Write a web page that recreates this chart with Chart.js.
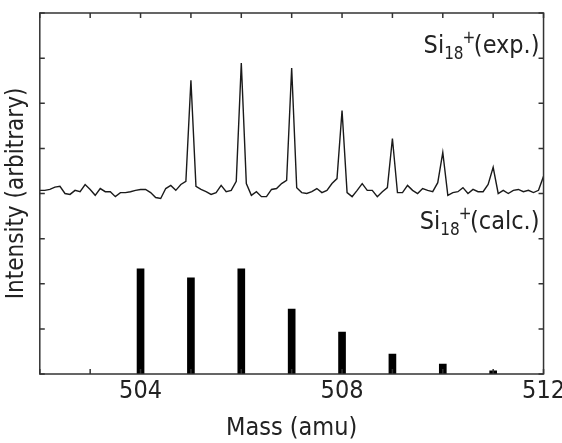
<!DOCTYPE html>
<html>
<head>
<meta charset="utf-8">
<script src="https://cdn.jsdelivr.net/npm/chart.js@4/dist/chart.umd.min.js"></script>
<style>
  html, body { margin: 0; padding: 0; background: #fff; overflow: hidden; }
  #wrap { width: 567px; height: 443px; }
</style>
</head>
<body>
<div id="wrap"><canvas id="massChart"></canvas></div>
<script>
// experimental spectrum, sampled every 0.1 amu from 502.0 to 512.0
const expMass = [];
for (let i = 0; i <= 100; i++) expMass.push(+(502 + i * 0.1).toFixed(1));
const expIntensity = [
  4.07, 4.07, 4.09, 4.14, 4.16, 4.00, 3.98, 4.07, 4.04, 4.20,
  4.09, 3.96, 4.11, 4.04, 4.04, 3.93, 4.02, 4.02, 4.04, 4.07,
  4.09, 4.09, 4.02, 3.91, 3.89, 4.11, 4.18, 4.07, 4.20, 4.27,
  6.51, 4.16, 4.09, 4.04, 3.98, 4.02, 4.18, 4.04, 4.07, 4.27,
  6.89, 4.22, 3.96, 4.04, 3.93, 3.93, 4.09, 4.11, 4.22, 4.29,
  6.78, 4.13, 4.02, 4.00, 4.04, 4.11, 4.02, 4.07, 4.22, 4.33,
  5.84, 4.02, 3.93, 4.07, 4.22, 4.07, 4.07, 3.93, 4.04, 4.13,
  5.22, 4.02, 4.02, 4.18, 4.07, 4.00, 4.11, 4.07, 4.04, 4.24,
  4.91, 3.96, 4.02, 4.04, 4.13, 4.00, 4.09, 4.04, 4.04, 4.20,
  4.58, 4.00, 4.07, 4.00, 4.07, 4.09, 4.04, 4.07, 4.02, 4.07,
  4.38
];

// calculated isotope pattern
const calcMass = [504, 505, 506, 507, 508, 509, 510, 511];
const calcIntensity = [2.33, 2.13, 2.33, 1.44, 0.93, 0.44, 0.22, 0.07];

const xTickLabels = [504, 508, 512];

const labels = [
  { text: "(exp.)", value: 7.11 },
  { text: "(calc.)", value: 3.22 }
];

const FONT = "'DejaVu Sans Condensed', 'DejaVu Sans', sans-serif";

// box and inward ticks on all four sides
const frame = {
  id: "frame",
  afterDatasetsDraw(chart) {
    const { ctx, chartArea: a, scales } = chart;
    ctx.save();
    ctx.strokeStyle = "#333";
    ctx.lineWidth = 1.5;
    ctx.strokeRect(a.left, a.top, a.right - a.left, a.bottom - a.top);
    ctx.beginPath();
    scales.x.ticks.forEach((t) => {
      const px = scales.x.getPixelForValue(t.value);
      ctx.moveTo(px, a.bottom); ctx.lineTo(px, a.bottom - 5);
      ctx.moveTo(px, a.top); ctx.lineTo(px, a.top + 5);
    });
    scales.y.ticks.forEach((t) => {
      const py = scales.y.getPixelForValue(t.value);
      ctx.moveTo(a.left, py); ctx.lineTo(a.left + 5, py);
      ctx.moveTo(a.right, py); ctx.lineTo(a.right - 5, py);
    });
    ctx.stroke();
    ctx.restore();
  }
};

// "Si18+(...)" tags
const tags = {
  id: "tags",
  afterDraw(chart) {
    const { ctx, chartArea: a, scales } = chart;
    ctx.save();
    ctx.fillStyle = "#222";
    ctx.textBaseline = "alphabetic";
    const big = "25px " + FONT, small = "17px " + FONT;
    labels.forEach((l) => {
      ctx.font = big;
      const wSi = ctx.measureText("Si").width;
      const wTail = ctx.measureText(l.text).width;
      ctx.font = small;
      const wSub = ctx.measureText("18").width;
      const wPlus = ctx.measureText("+").width * 0.8;
      const y = scales.y.getPixelForValue(l.value);
      let x = a.right - 4 - (wSi + wSub + wPlus + wTail);
      ctx.font = big;
      ctx.fillText("Si", x, y);
      x += wSi;
      ctx.font = small;
      ctx.fillText("18", x, y + 6);
      x += wSub;
      ctx.fillText("+", x - 1, y - 10);
      x += wPlus;
      ctx.font = big;
      ctx.fillText(l.text, x, y);
    });
    ctx.restore();
  }
};

new Chart(document.getElementById("massChart"), {
  type: "bar",
  data: {
    datasets: [
      {
        type: "line",
        data: expMass.map((m, i) => ({ x: m, y: expIntensity[i] })),
        borderColor: "#1a1a1a",
        borderWidth: 1.4,
        pointRadius: 0,
        tension: 0
      },
      {
        type: "bar",
        data: calcMass.map((m, i) => ({ x: m, y: calcIntensity[i] })),
        backgroundColor: "#000",
        barThickness: 7
      }
    ]
  },
  options: {
    responsive: true,
    maintainAspectRatio: false,
    animation: false,
    layout: { padding: { top: 13, left: 2, right: 0, bottom: 0 } },
    plugins: { legend: { display: false }, tooltip: { enabled: false } },
    scales: {
      x: {
        type: "linear",
        min: 502,
        max: 512,
        offset: false,
        grid: { display: false, drawTicks: false },
        border: { display: false },
        ticks: {
          stepSize: 1,
          autoSkip: false,
          maxRotation: 0,
          padding: 2,
          color: "#222",
          font: { family: FONT, size: 25 },
          callback: (v) => (xTickLabels.includes(v) ? String(v) : "")
        },
        title: {
          display: true,
          text: "Mass (amu)",
          color: "#222",
          font: { family: FONT, size: 25 },
          padding: { top: 5, bottom: 0 }
        }
      },
      y: {
        min: 0,
        max: 8,
        grid: { display: false, drawTicks: false },
        border: { display: false },
        ticks: { display: false, stepSize: 1 },
        title: {
          display: true,
          text: "Intensity (arbitrary)",
          color: "#222",
          font: { family: FONT, size: 24 },
          padding: { top: 0, bottom: 9 }
        }
      }
    }
  },
  plugins: [frame, tags]
});
</script>
</body>
</html>
